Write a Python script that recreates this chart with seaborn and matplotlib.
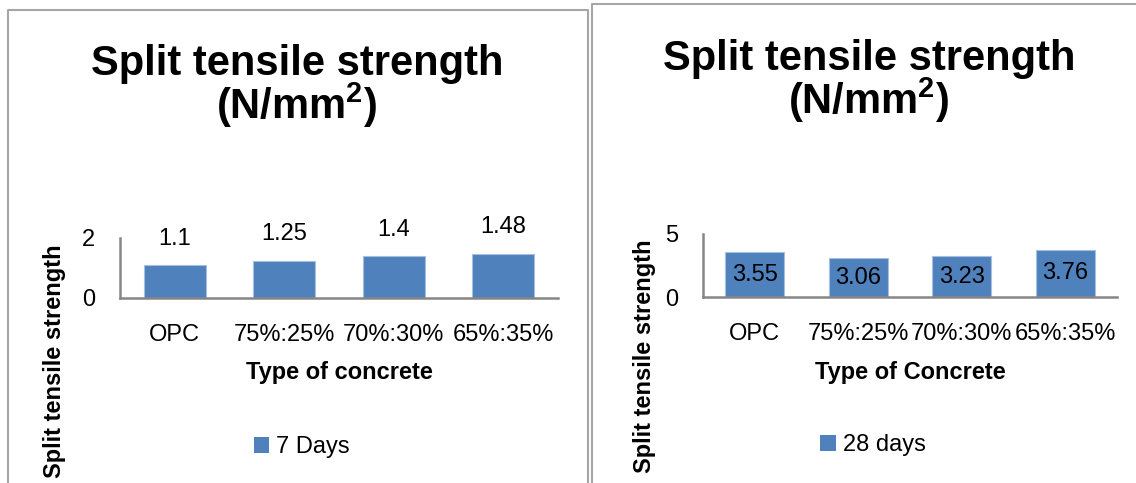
import matplotlib
matplotlib.use("Agg")
import matplotlib.pyplot as plt
import seaborn as sns
import pandas as pd
from matplotlib.patches import Patch
from matplotlib.lines import Line2D

# ========= Data =========
concrete_types = ["OPC", "75%:25%", "70%:30%", "65%:35%"]
strength_7_days = [1.1, 1.25, 1.4, 1.48]
strength_28_days = [3.55, 3.06, 3.23, 3.76]

BAR_COLOR = "#4F81BD"
AXIS_COLOR = "#868686"
BORDER_COLOR = "#A6A6A6"

W, H = 1136, 483

sns.set_theme(style="white")
plt.rcParams["font.family"] = ["Liberation Sans", "DejaVu Sans"]
plt.rcParams["text.color"] = "black"
plt.rcParams["mathtext.fontset"] = "custom"
plt.rcParams["mathtext.bf"] = "Liberation Sans:bold"
plt.rcParams["mathtext.rm"] = "Liberation Sans"


def px(x, y):
    """pixel (from top-left) -> figure fraction"""
    return x / W, 1 - y / H


def add_axes(fig, left, top, right, bottom):
    return fig.add_axes([left / W, 1 - bottom / H, (right - left) / W, (bottom - top) / H])


def draw_panel(fig, ax, values, ymax, label_inside, xlabel, legend_label,
               title_x, title_y, ylabel_x, ylabel_y, xlabel_x, legend_x, legend_y):
    df = pd.DataFrame({"type": concrete_types, "value": values})
    sns.barplot(data=df, x="type", y="value", color=BAR_COLOR, width=0.57,
                edgecolor="#A7BFDE", linewidth=0.8, saturation=1, ax=ax)
    ax.set_ylim(0, ymax)
    ax.set_yticks([0, ymax])
    ax.set_xlabel("")
    ax.set_ylabel("")
    for s in ["top", "right"]:
        ax.spines[s].set_visible(False)
    for s in ["left", "bottom"]:
        ax.spines[s].set_color(AXIS_COLOR)
        ax.spines[s].set_linewidth(1.8)
    ax.tick_params(axis="both", length=0, labelsize=17, colors="black")
    ax.tick_params(axis="y", pad=18)
    ax.tick_params(axis="x", pad=19)
    ax.set_facecolor("none")

    if label_inside:
        ax.bar_label(ax.containers[0], fmt="%g", label_type="center", fontsize=17)
    else:
        ax.bar_label(ax.containers[0], fmt="%g", padding=11, fontsize=17)

    # title
    fig.text(*px(title_x, title_y), "Split tensile strength", ha="center",
             va="baseline", fontsize=30, fontweight="bold")
    fig.text(*px(title_x, title_y + 44), r"(N/mm$^{\mathbf{2}}$)", ha="center",
             va="baseline", fontsize=30, fontweight="bold")
    # axis labels
    fig.text(*px(xlabel_x, 373), xlabel, ha="center", va="center",
             fontsize=17, fontweight="bold")
    fig.text(*px(ylabel_x, ylabel_y), "Split tensile strength", ha="center",
             va="center", rotation=90, fontsize=17, fontweight="bold")
    # legend
    handle = Patch(facecolor=BAR_COLOR, edgecolor="none")
    fig.legend(handles=[handle], labels=[legend_label], loc="center",
               bbox_to_anchor=px(legend_x, legend_y), frameon=False,
               fontsize=17, handlelength=0.65, handleheight=0.65,
               handletextpad=0.3, borderpad=0)


fig = plt.figure(figsize=(W / 100, H / 100), dpi=100)

# panel borders
fig.add_artist(Line2D([8 / W, 8 / W, 588 / W, 588 / W], [0, 1 - 10 / H, 1 - 10 / H, 0],
                      color=BORDER_COLOR, lw=1.5, transform=fig.transFigure))
fig.add_artist(Line2D([592 / W, 592 / W, 1.0], [0, 1 - 4 / H, 1 - 4 / H],
                      color=BORDER_COLOR, lw=1.5, transform=fig.transFigure))

ax1 = add_axes(fig, 120, 238, 558, 298)
draw_panel(fig, ax1, strength_7_days, 2, False, "Type of concrete", "7 Days",
           title_x=297, title_y=75, ylabel_x=55, ylabel_y=361,
           xlabel_x=339, legend_x=302, legend_y=447)

ax2 = add_axes(fig, 703, 234, 1117, 297)
draw_panel(fig, ax2, strength_28_days, 5, True, "Type of Concrete", "28 days",
           title_x=869, title_y=70, ylabel_x=645, ylabel_y=356,
           xlabel_x=910, legend_x=873, legend_y=445)

fig.savefig("out.png", dpi=100)
